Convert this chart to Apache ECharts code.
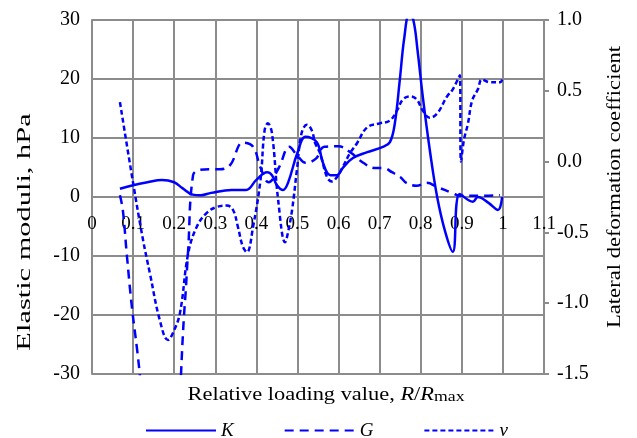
<!DOCTYPE html>
<html>
<head>
<meta charset="utf-8">
<script src="https://cdn.jsdelivr.net/npm/echarts@6/dist/echarts.min.js"></script>
<style>html,body{margin:0;padding:0;background:#fff}#c{width:637px;height:438px}</style>
</head>
<body>
<div id="c"></div>
<script>
// K (left axis)
const kX = [0.068,0.10,0.135,0.17,0.20,0.22,0.245,0.265,0.29,0.34,0.375,0.40,0.426,0.438,0.45,0.465,0.477,0.50,0.52,0.547,0.562,0.58,0.596,0.61,0.635,0.67,0.708,0.725,0.737,0.749,0.76,0.772,0.782,0.792,0.805,0.822,0.84,0.86,0.878,0.895,0.927,0.939,0.965,0.988,0.998];
const kY = [1.4,2.0,2.5,2.9,2.5,1.5,0.4,0.3,0.7,1.2,1.2,2.9,4.2,3.7,2.0,1.2,2.4,7.5,10.2,9.3,5.8,3.7,3.7,4.9,6.6,7.6,8.5,9.3,12.5,19.8,27,31,30,25,17,8,0,-6,-9.3,0.5,-0.8,0,-1.0,-2.2,0];
// G (left axis)
const gX = [0.068,0.075,0.085,0.097,0.11,0.15,0.185,0.226,0.234,0.246,0.263,0.287,0.311,0.336,0.367,0.392,0.41,0.43,0.455,0.48,0.50,0.52,0.545,0.565,0.60,0.63,0.66,0.69,0.71,0.73,0.75,0.765,0.79,0.815,0.84,0.876,0.895,0.944,0.993];
const gY = [0.3,-2.2,-10,-18.6,-26,-50,-55,-18,-9,3.7,4.6,4.7,4.7,5.4,9.2,8.5,5,2.5,5,8.5,7,5.8,6.5,8.5,8.6,7.5,5.8,4.9,4.9,4.2,3.4,2.4,1.9,2.4,1.7,0.7,0.2,0.2,0.3];
// v (right axis)
const vX = [0.068,0.10,0.124,0.141,0.165,0.185,0.197,0.214,0.234,0.255,0.28,0.304,0.328,0.343,0.355,0.367,0.377,0.392,0.41,0.42,0.428,0.438,0.453,0.47,0.477,0.487,0.499,0.51,0.523,0.535,0.543,0.555,0.572,0.584,0.596,0.61,0.628,0.645,0.669,0.70,0.725,0.742,0.757,0.774,0.79,0.805,0.822,0.84,0.864,0.878,0.895,0.898,0.905,0.915,0.925,0.939,0.949,0.968,0.993,0.998];
const vY = [0.42,-0.15,-0.55,-0.79,-1.12,-1.26,-1.21,-1.07,-0.65,-0.46,-0.36,-0.32,-0.31,-0.34,-0.46,-0.60,-0.64,-0.46,-0.13,0.22,0.27,0.20,-0.27,-0.57,-0.5,-0.34,-0.05,0.2,0.26,0.22,0.13,0.06,-0.11,-0.14,-0.11,-0.04,0.06,0.13,0.24,0.27,0.29,0.36,0.44,0.46,0.44,0.36,0.31,0.34,0.46,0.51,0.61,0.0,0.15,0.27,0.43,0.51,0.58,0.56,0.56,0.58];

const pairs = (xs, ys) => xs.map((x, i) => [x, ys[i]]);
const FONT = 'Liberation Serif';
const GRID = '#8c8c8c';
const BLUE = '#0000ff';

const chart = echarts.init(document.getElementById('c'), null, {renderer: 'canvas'});
chart.setOption({
  animation: false,
  backgroundColor: '#fff',
  textStyle: {fontFamily: FONT},
  grid: {left: 92, right: 93, top: 20, bottom: 64, containLabel: false},
  legend: {
    left: 140, top: 416, itemWidth: 70, itemHeight: 2, itemGap: 50,
    data: ['K', 'G', 'v'],
    itemStyle: {opacity: 0, borderWidth: 0},
    textStyle: {fontFamily: FONT, fontSize: 19, fontStyle: 'italic', color: '#000'}
  },
  graphic: [
    {type: 'text', x: 326, y: 395, scaleX: 1.18,
     style: {text: '{a|Relative loading value, }{i|R}{a|/}{i|R}{s|max}', align: 'center', verticalAlign: 'middle',
       rich: {
         a: {fontFamily: FONT, fontSize: 19, fill: '#000'},
         i: {fontFamily: FONT, fontSize: 19, fontStyle: 'italic', fill: '#000'},
         s: {fontFamily: FONT, fontSize: 15, fill: '#000', padding: [4, 0, 0, 0]}
       }}},
    {type: 'text', x: 25, y: 232, rotation: Math.PI / 2, scaleX: 1.6,
     style: {text: 'Elastic moduli, hPa', font: '19px "Liberation Serif"', fill: '#000', align: 'center', verticalAlign: 'middle'}},
    {type: 'text', x: 615, y: 187, rotation: Math.PI / 2, scaleX: 1.19,
     style: {text: 'Lateral deformation coefficient', font: '19px "Liberation Serif"', fill: '#000', align: 'center', verticalAlign: 'middle'}}
  ],
  xAxis: {
    type: 'value', min: 0, max: 1.1, interval: 0.1, position: 'bottom', offset: -177,
    axisLine: {onZero: false, lineStyle: {color: GRID, width: 2}},
    axisTick: {show: false},
    axisLabel: {color: '#000', fontSize: 19, fontFamily: FONT, margin: 18,
      showMinLabel: true, showMaxLabel: true,
      formatter: v => String(Math.round(v * 10) / 10)},
    splitLine: {show: true, lineStyle: {color: GRID, width: 2}}
  },
  yAxis: [
    {type: 'value', min: -30, max: 30, interval: 10, position: 'left',
     axisLine: {show: true, onZero: false, lineStyle: {color: GRID, width: 2}},
     axisTick: {show: false},
     axisLabel: {color: '#000', fontSize: 20, fontFamily: FONT, margin: 12},
     splitLine: {show: true, lineStyle: {color: GRID, width: 2}}},
    {type: 'value', min: -1.5, max: 1.0, interval: 0.5, position: 'right',
     axisLine: {show: true, onZero: false, lineStyle: {color: GRID, width: 2}},
     axisTick: {show: true, inside: false, length: 5, lineStyle: {color: GRID, width: 2}},
     axisLabel: {color: '#000', fontSize: 20, fontFamily: FONT, margin: 13,
       formatter: v => v.toFixed(1)},
     splitLine: {show: false}}
  ],
  series: [
    {name: 'K', type: 'line', yAxisIndex: 0, data: pairs(kX, kY), smooth: 0.4,
     symbol: 'none', clip: true, lineStyle: {color: BLUE, width: 2.5, type: 'solid'}, itemStyle: {color: BLUE}},
    {name: 'G', type: 'line', yAxisIndex: 0, data: pairs(gX, gY), smooth: 0.4,
     symbol: 'none', clip: true, lineStyle: {color: BLUE, width: 2.5, type: [9, 6]}, itemStyle: {color: BLUE}},
    {name: 'v', type: 'line', yAxisIndex: 1, data: pairs(vX, vY), smooth: 0.4,
     symbol: 'none', clip: true, lineStyle: {color: BLUE, width: 2.5, type: [5, 3]}, itemStyle: {color: BLUE}}
  ]
});
</script>
</body>
</html>
